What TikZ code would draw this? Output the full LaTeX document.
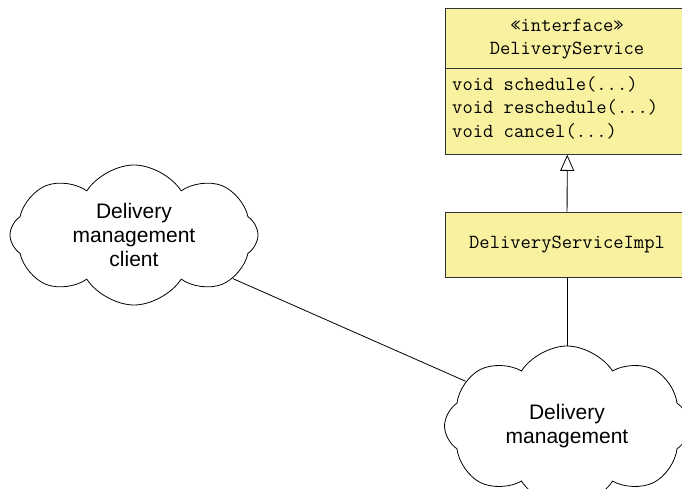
\documentclass[tikz,border=0pt]{standalone}
\usepackage{fontspec}
\setmainfont{Liberation Sans}
\usetikzlibrary{arrows.meta,shapes.symbols}
\definecolor{umlyellow}{HTML}{F8F2A0}
\definecolor{umledge}{HTML}{333333}

\begin{document}
\begin{tikzpicture}[x=1pt,y=-1pt,
  umlbox/.style={draw=umledge,fill=umlyellow,line width=0.8pt,minimum width=244pt,inner sep=0pt},
  umltext/.style={font=\ttfamily\fontsize{20}{23.5}\selectfont,inner sep=0pt},
  cloudbox/.style={cloud,cloud puffs=8,cloud puff arc=115,draw,line width=0.8pt,inner sep=0pt},
  cloudtext/.style={align=center,font=\fontsize{21}{24}\selectfont,inner sep=0pt},
  link/.style={line width=0.8pt}]
\useasboundingbox (0,0) rectangle (682,489);
\clip (0,0) rectangle (682,489);
\node[umlbox,minimum height=146pt,anchor=north west] (iface) at (445,8) {};
\draw[umledge,line width=0.8pt] ([yshift=-60pt]iface.north west) -- ([yshift=-60pt]iface.north east);
\node[umltext,anchor=base] (stereo) at (567,32) {«interface»};
\node[umltext,anchor=base] (iname) at (567,55) {DeliveryService};
\node[umltext,anchor=base west] (op1) at (452,91) {void schedule(...)};
\node[umltext,anchor=base west] (op2) at (452,114) {void reschedule(...)};
\node[umltext,anchor=base west] (op3) at (452,138) {void cancel(...)};
\node[umlbox,umltext,minimum width=244pt,minimum height=65pt] (impl) at (567,244.5) {DeliveryServiceImpl};
\draw[link,-{Triangle[open,length=16pt,width=14pt]}] (impl) -- (iface);
\node[cloudbox,shape border rotate=20,minimum width=248pt,minimum height=140pt] (client) at (134,235) {};
\node[cloudtext] (clienttext) at (client.center) {Delivery\\management\\client};
\node[cloudbox,minimum width=245pt,minimum height=160pt] (mgmt) at (567,426) {};
\node[cloudtext] (mgmttext) at (mgmt.center) {Delivery\\management};
\draw[link] (client) -- (mgmt);
\draw[link] (impl) -- (mgmt);
\end{tikzpicture}
\end{document}
